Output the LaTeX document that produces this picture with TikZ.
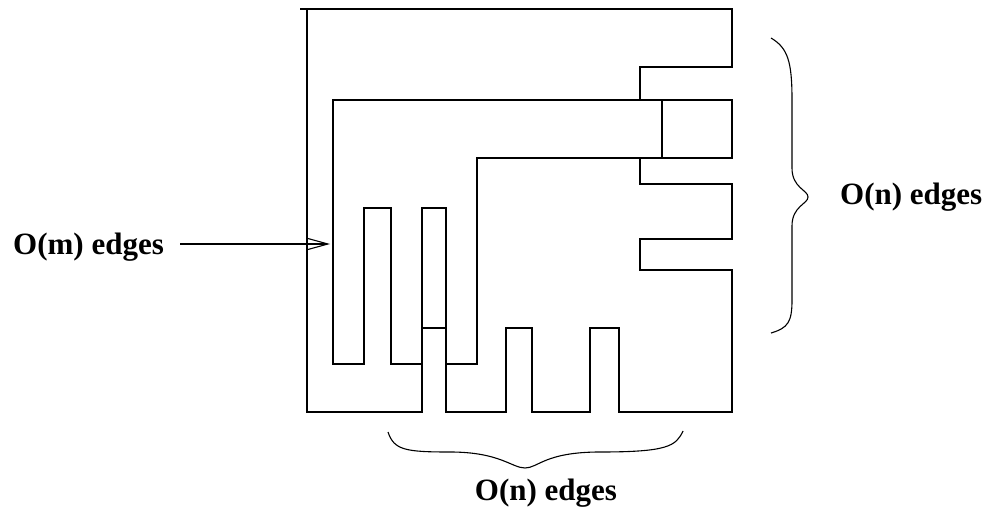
\documentclass[tikz,border=0pt]{standalone}
\usepackage{fontspec}
\setmainfont{Liberation Serif}
\usetikzlibrary{arrows.meta}
\begin{document}
\begin{tikzpicture}[x=1pt,y=-1pt,
  wire/.style={line width=1.1pt,line join=miter},
  brace/.style={line width=1.1pt},
  lbl/.style={inner sep=0pt,font=\fontsize{31}{36}\selectfont\bfseries},
  pointer/.style={line width=1.1pt,-{Straight Barb[length=20pt,width=11pt,line width=1.1pt]}}]
\useasboundingbox (0,0) rectangle (987,510);
% outer region with teeth
\draw[wire] (300,9) -- (732,9) -- (732,67) -- (640,67) -- (640,100) -- (732,100)
  -- (732,158) -- (640,158) -- (640,184) -- (732,184) -- (732,239) -- (640,239)
  -- (640,270) -- (732,270) -- (732,412) -- (619,412) -- (619,328) -- (590,328)
  -- (590,412) -- (532,412) -- (532,328) -- (506,328) -- (506,412) -- (446,412)
  -- (446,328) -- (422,328) -- (422,412) -- (307,412) -- (307,9);
% inner L-shaped comb
\draw[wire] (333,100) -- (662,100) -- (662,158) -- (477,158) -- (477,364)
  -- (446,364) -- (446,208) -- (422,208) -- (422,364) -- (391,364) -- (391,208)
  -- (364,208) -- (364,364) -- (333,364) -- cycle;
% labels
\node[lbl,anchor=base west] (mlab) at (13,255) {O(m) edges};
\node[lbl,anchor=base west] (rlab) at (840,205) {O(n) edges};
\node[lbl,anchor=base] (blab) at (546,500) {O(n) edges};
% arrow
\coordinate (astart) at (180,244);
\coordinate (atip) at (330,244);
\draw[pointer] (astart) -- (atip);
% right brace
\coordinate (rtop) at (771,38);
\coordinate (rcusp) at (808,197);
\coordinate (rbot) at (771,333);
\draw[brace] (rtop) .. controls (788,48) and (792,62) .. (792,100) -- (792,168)
  .. controls (792,188) and (808,190) .. (rcusp)
  .. controls (808,204) and (792,206) .. (792,226) -- (792,300)
  .. controls (792,322) and (788,328) .. (rbot);
% bottom brace
\coordinate (bleft) at (388,432);
\coordinate (bcusp) at (525,468);
\coordinate (bright) at (683,431);
\draw[brace] (bleft) .. controls (394,450) and (405,452) .. (450,452)
  .. controls (500,452) and (512,468) .. (bcusp)
  .. controls (538,468) and (545,452) .. (600,452)
  .. controls (668,452) and (676,446) .. (bright);
\end{tikzpicture}
\end{document}
